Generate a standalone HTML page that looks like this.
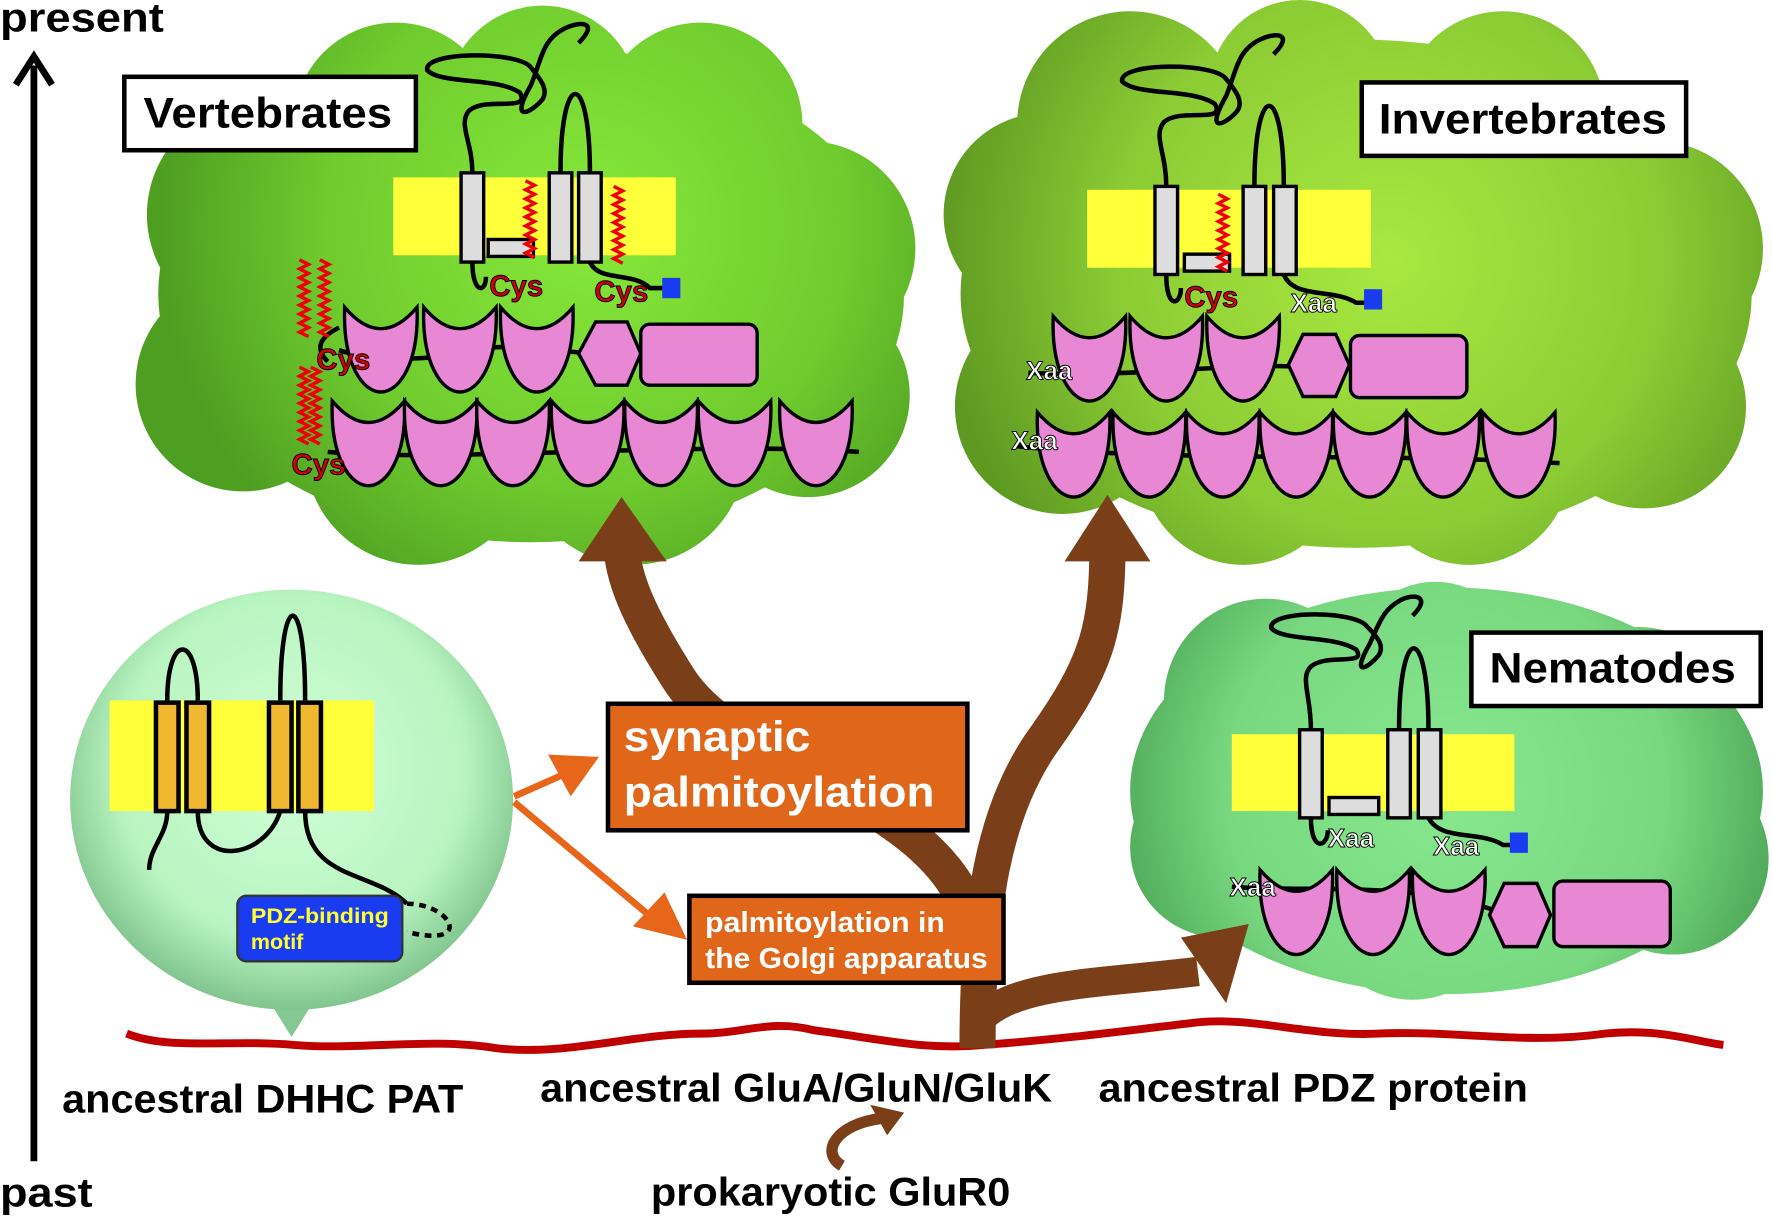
<!DOCTYPE html>
<html><head><meta charset="utf-8"><style>
html,body{margin:0;padding:0;background:#fff}
svg{display:block}
text{font-family:"Liberation Sans",Arial,sans-serif;font-weight:bold}
</style></head><body>
<svg width="1772" height="1220" viewBox="0 0 1568 1080" preserveAspectRatio="none" xmlns="http://www.w3.org/2000/svg">
<defs>
<radialGradient id="gV" gradientUnits="userSpaceOnUse" cx="520" cy="200" r="380"><stop offset="0" stop-color="#86e83a"/><stop offset="0.6" stop-color="#70cc2e"/><stop offset="1" stop-color="#4e9e22"/></radialGradient>
<radialGradient id="gI" gradientUnits="userSpaceOnUse" cx="1230" cy="230" r="400"><stop offset="0" stop-color="#a8e840"/><stop offset="0.6" stop-color="#8ccc34"/><stop offset="1" stop-color="#5e9a22"/></radialGradient>
<radialGradient id="gN" gradientUnits="userSpaceOnUse" cx="1280" cy="700" r="300"><stop offset="0" stop-color="#88e890"/><stop offset="0.65" stop-color="#78d880"/><stop offset="1" stop-color="#4ea858"/></radialGradient>
<radialGradient id="gB" gradientUnits="userSpaceOnUse" cx="258" cy="680" r="220"><stop offset="0" stop-color="#d0ffd8"/><stop offset="0.7" stop-color="#b8f4c0"/><stop offset="1" stop-color="#7cc08a"/></radialGradient>
<path id="lune" d="M0,0 Q32,38 64,0 C66,50 48,75 32,75 C16,75 -2,50 0,0 Z" fill="#e888d4" stroke="#000" stroke-width="3"/>
<path id="zig" d="M0,0 l8,4 l-8,4 l8,4 l-8,4 l8,4 l-8,4 l8,4 l-8,4 l8,4 l-8,4 l8,4 l-8,4 l8,4 l-8,4 l8,4 l-8,4 l8,4" fill="none" stroke="#e00" stroke-width="3"/>
</defs>

<g fill="url(#gV)">
<ellipse cx="470" cy="260" rx="330" ry="220"/>
<circle cx="350" cy="110" r="90"/><circle cx="480" cy="90" r="85"/><circle cx="620" cy="110" r="90"/>
<circle cx="230" cy="190" r="100"/><circle cx="715" cy="220" r="95"/><circle cx="215" cy="340" r="95"/>
<circle cx="370" cy="400" r="100"/><circle cx="560" cy="400" r="100"/><circle cx="715" cy="350" r="90"/>
</g>
<g fill="url(#gI)">
<ellipse cx="1200" cy="260" rx="350" ry="225"/>
<circle cx="1000" cy="110" r="100"/><circle cx="1150" cy="80" r="80"/><circle cx="1330" cy="100" r="90"/>
<circle cx="925" cy="190" r="90"/><circle cx="1465" cy="220" r="95"/><circle cx="940" cy="360" r="95"/>
<circle cx="1100" cy="410" r="90"/><circle cx="1300" cy="410" r="90"/><circle cx="1455" cy="360" r="90"/>
</g>
<g fill="url(#gN)">
<ellipse cx="1280" cy="700" rx="280" ry="180"/>
<circle cx="1120" cy="620" r="90"/><circle cx="1270" cy="590" r="75"/><circle cx="1450" cy="640" r="85"/>
<circle cx="1080" cy="750" r="80"/><circle cx="1480" cy="760" r="85"/><circle cx="1250" cy="800" r="85"/>
</g>
<path d="M228,870 L258,918 L288,870 Z" fill="#86c894"/>
<ellipse cx="258" cy="708" rx="196" ry="186" fill="url(#gB)"/>

<path d="M112,915 C150,930 200,920 260,925 C320,930 380,918 440,928 C500,935 560,915 620,915 C660,915 680,902 720,912 C780,920 820,930 870,925 C940,920 1000,912 1060,905 C1110,900 1160,918 1220,915 C1290,912 1350,925 1420,915 C1470,910 1500,922 1525,925" fill="none" stroke="#c00000" stroke-width="7"/>

<line x1="30" y1="1028" x2="30" y2="58" stroke="#000" stroke-width="6"/>
<path d="M14,75 L30,50 L46,75" fill="none" stroke="#000" stroke-width="6"/>
<text x="0" y="28" font-size="36" textLength="145" lengthAdjust="spacingAndGlyphs">present</text>
<text x="0" y="1068" font-size="36" textLength="82" lengthAdjust="spacingAndGlyphs">past</text>

<g fill="none" stroke="#7a3e18" stroke-linejoin="round">
<path d="M865,928 C865,800 880,720 920,660 C970,590 980,560 980,480" stroke-width="32"/>
<path d="M855,800 C810,700 650,680 600,600 C565,545 550,510 550,480" stroke-width="32"/>
<path d="M870,900 C900,870 980,870 1060,860" stroke-width="26"/>
<path d="M745,1032 C725,1020 740,995 780,990" stroke-width="10"/>
</g>
<g fill="#7a3e18">
<path d="M512,497 L550,440 L590,497 Z"/>
<path d="M942,497 L980,438 L1018,497 Z"/>
<path d="M1045,830 L1105,818 L1085,888 Z"/>
<path d="M770,978 L800,985 L785,1005 Z"/>
</g>

<g stroke="#e8661a" stroke-width="6" fill="none"><path d="M455,705 L500,685"/><path d="M455,710 L580,815"/></g>
<path d="M485,668 L530,670 L505,705 Z" fill="#e8661a"/>
<path d="M560,820 L608,832 L588,790 Z" fill="#e8661a"/>

<rect x="538" y="623" width="318" height="112" fill="#e0661a" stroke="#000" stroke-width="4"/>
<text x="552" y="665" font-size="38" fill="#fff" textLength="165" lengthAdjust="spacingAndGlyphs">synaptic</text>
<text x="552" y="714" font-size="38" fill="#fff" textLength="275" lengthAdjust="spacingAndGlyphs">palmitoylation</text>
<rect x="610" y="793" width="278" height="77" fill="#e0661a" stroke="#000" stroke-width="4"/>
<text x="624" y="825" font-size="25" fill="#fff" textLength="212" lengthAdjust="spacingAndGlyphs">palmitoylation in</text>
<text x="624" y="857" font-size="25" fill="#fff" textLength="250" lengthAdjust="spacingAndGlyphs">the Golgi apparatus</text>

<text x="55" y="985" font-size="35" textLength="355" lengthAdjust="spacingAndGlyphs">ancestral DHHC PAT</text>
<text x="478" y="975" font-size="35" textLength="453" lengthAdjust="spacingAndGlyphs">ancestral GluA/GluN/GluK</text>
<text x="972" y="975" font-size="35" textLength="380" lengthAdjust="spacingAndGlyphs">ancestral PDZ protein</text>
<text x="576" y="1067" font-size="35" textLength="318" lengthAdjust="spacingAndGlyphs">prokaryotic GluR0</text>

<rect x="110" y="68" width="258" height="65" fill="#fff" stroke="#000" stroke-width="4"/>
<text x="127" y="113" font-size="38" textLength="220" lengthAdjust="spacingAndGlyphs">Vertebrates</text>
<rect x="1205" y="73" width="287" height="65" fill="#fff" stroke="#000" stroke-width="4"/>
<text x="1220" y="118" font-size="38" textLength="255" lengthAdjust="spacingAndGlyphs">Invertebrates</text>
<rect x="1302" y="560" width="256" height="65" fill="#fff" stroke="#000" stroke-width="4"/>
<text x="1318" y="604" font-size="38" textLength="218" lengthAdjust="spacingAndGlyphs">Nematodes</text>

<rect x="97" y="620" width="234" height="98" fill="#ffff3a"/>
<g fill="none" stroke="#000" stroke-width="4">
<path d="M148,620 C148,560 175,560 175,620"/>
<path d="M248,620 C248,520 270,520 270,620"/>
<path d="M148,718 C148,740 132,750 132,770"/>
<path d="M175,718 C175,770 235,760 248,718"/>
<path d="M270,718 C270,780 330,770 360,800"/>
<path d="M360,800 C400,800 420,840 360,825" stroke-dasharray="6,5"/>
</g>
<g fill="#f0b830" stroke="#000" stroke-width="4">
<rect x="138" y="622" width="20" height="96"/><rect x="165" y="622" width="20" height="96"/>
<rect x="238" y="622" width="20" height="96"/><rect x="264" y="622" width="20" height="96"/>
</g>
<rect x="210" y="793" width="146" height="58" rx="8" fill="#1a3cf0" stroke="#333" stroke-width="2"/>
<text x="222" y="817" font-size="19" fill="#ffff30" textLength="122" lengthAdjust="spacingAndGlyphs">PDZ-binding</text>
<text x="222" y="840" font-size="19" fill="#ffff30">motif</text>

<rect x="348" y="157" width="250" height="69" fill="#ffff3a"/>
<g fill="none" stroke="#000" stroke-width="4">
<path d="M418,153 C418,125 405,110 415,98 C430,85 470,100 460,82 C440,68 390,75 378,62 C375,45 460,45 470,60 C480,72 485,80 480,88 C470,100 450,110 470,75 C480,50 480,35 500,25 C515,18 530,20 512,38"/>
<path d="M496,153 C496,60 522,60 522,153"/>
<path d="M418,232 C418,260 430,260 430,245"/>
<path d="M522,232 C530,250 560,240 575,255 L590,255"/>
<path d="M300,310 C330,320 380,320 420,310 C460,300 520,320 560,310"/>
<path d="M290,400 C400,410 600,390 760,400"/>
<path d="M300,290 C280,300 280,310 290,320"/>
</g>
<g fill="#ddd" stroke="#000" stroke-width="3">
<rect x="408" y="153" width="20" height="79"/><rect x="486" y="153" width="20" height="79"/><rect x="512" y="153" width="20" height="79"/>
<rect x="432" y="212" width="40" height="15"/>
</g>
<use href="#zig" x="465" y="160"/><use href="#zig" x="543" y="165"/>
<use href="#zig" x="265" y="230"/><use href="#zig" x="283" y="230"/>
<use href="#zig" x="265" y="325"/><use href="#zig" x="275" y="325"/>
<use href="#lune" x="305" y="272"/><use href="#lune" x="375" y="272"/><use href="#lune" x="443" y="272"/>
<path d="M512,313 L527,285 L555,285 L567,313 L555,341 L527,341 Z" fill="#e888d4" stroke="#000" stroke-width="3"/>
<rect x="567" y="287" width="103" height="54" rx="8" fill="#e888d4" stroke="#000" stroke-width="3"/>
<use href="#lune" x="294" y="355"/><use href="#lune" x="358" y="355"/><use href="#lune" x="422" y="355"/><use href="#lune" x="488" y="355"/><use href="#lune" x="553" y="355"/><use href="#lune" x="618" y="355"/><use href="#lune" x="690" y="355"/>
<rect x="586" y="246" width="16" height="18" fill="#1a3cf0"/>
<g font-size="26" fill="#d00000" stroke="#000" stroke-width="0.8">
<text x="433" y="262">Cys</text><text x="526" y="267">Cys</text><text x="280" y="327">Cys</text><text x="258" y="420">Cys</text>
</g>

<rect x="962" y="168" width="251" height="69" fill="#ffff3a"/>
<g fill="none" stroke="#000" stroke-width="4">
<path d="M1032,165 C1032,135 1020,120 1030,108 C1045,95 1085,110 1075,92 C1055,78 1005,85 993,72 C990,55 1075,55 1085,70 C1095,82 1100,90 1095,98 C1085,110 1065,120 1085,85 C1095,60 1095,45 1115,35 C1130,28 1145,30 1127,48"/>
<path d="M1110,165 C1110,70 1136,70 1136,165"/>
<path d="M1032,243 C1032,275 1045,270 1045,255"/>
<path d="M1136,243 C1145,265 1180,255 1200,268 L1210,268"/>
<path d="M910,330 C1000,335 1100,320 1150,325"/>
<path d="M900,395 C1050,410 1200,400 1380,410"/>
</g>
<g fill="#ddd" stroke="#000" stroke-width="3">
<rect x="1022" y="165" width="20" height="78"/><rect x="1100" y="165" width="20" height="78"/><rect x="1127" y="165" width="20" height="78"/>
<rect x="1048" y="225" width="40" height="15"/>
</g>
<use href="#zig" x="1078" y="172"/>
<use href="#lune" x="932" y="280"/><use href="#lune" x="1000" y="280"/><use href="#lune" x="1068" y="280"/>
<path d="M1140,323 L1153,296 L1182,296 L1194,323 L1182,351 L1153,351 Z" fill="#e888d4" stroke="#000" stroke-width="3"/>
<rect x="1195" y="297" width="103" height="55" rx="8" fill="#e888d4" stroke="#000" stroke-width="3"/>
<use href="#lune" x="918" y="365"/><use href="#lune" x="985" y="365"/><use href="#lune" x="1050" y="365"/><use href="#lune" x="1115" y="365"/><use href="#lune" x="1180" y="365"/><use href="#lune" x="1245" y="365"/><use href="#lune" x="1312" y="365"/>
<rect x="1207" y="256" width="16" height="18" fill="#1a3cf0"/>
<text x="1048" y="272" font-size="26" fill="#d00000" stroke="#000" stroke-width="0.8">Cys</text>
<g font-size="23" fill="#fff" stroke="#000" stroke-width="0.8">
<text x="1142" y="276">Xaa</text><text x="908" y="336">Xaa</text><text x="895" y="398">Xaa</text>
</g>

<rect x="1090" y="650" width="250" height="68" fill="#ffff3a"/>
<g fill="none" stroke="#000" stroke-width="4">
<path d="M1160,646 C1160,615 1150,600 1160,590 C1175,578 1210,590 1200,575 C1180,562 1135,568 1125,556 C1122,540 1200,540 1210,555 C1220,565 1225,572 1220,580 C1210,592 1195,600 1212,570 C1222,548 1225,538 1242,530 C1255,525 1265,530 1250,545"/>
<path d="M1238,646 C1238,550 1264,550 1264,646"/>
<path d="M1160,724 C1160,755 1175,750 1175,735"/>
<path d="M1264,724 C1275,745 1310,735 1330,748 L1340,748"/>
<path d="M1090,785 C1150,790 1250,780 1320,805"/>
</g>
<g fill="#ddd" stroke="#000" stroke-width="3">
<rect x="1150" y="646" width="20" height="78"/><rect x="1228" y="646" width="20" height="78"/><rect x="1255" y="646" width="20" height="78"/>
<rect x="1176" y="706" width="44" height="15"/>
</g>
<use href="#lune" x="1115" y="770"/><use href="#lune" x="1183" y="770"/><use href="#lune" x="1250" y="770"/>
<path d="M1318,810 L1331,782 L1360,782 L1372,810 L1360,838 L1331,838 Z" fill="#e888d4" stroke="#000" stroke-width="3"/>
<rect x="1375" y="780" width="103" height="58" rx="8" fill="#e888d4" stroke="#000" stroke-width="3"/>
<rect x="1336" y="737" width="16" height="18" fill="#1a3cf0"/>
<g font-size="23" fill="#fff" stroke="#000" stroke-width="0.8">
<text x="1175" y="750">Xaa</text><text x="1268" y="757">Xaa</text><text x="1088" y="793">Xaa</text>
</g>
</svg>
</body></html>
